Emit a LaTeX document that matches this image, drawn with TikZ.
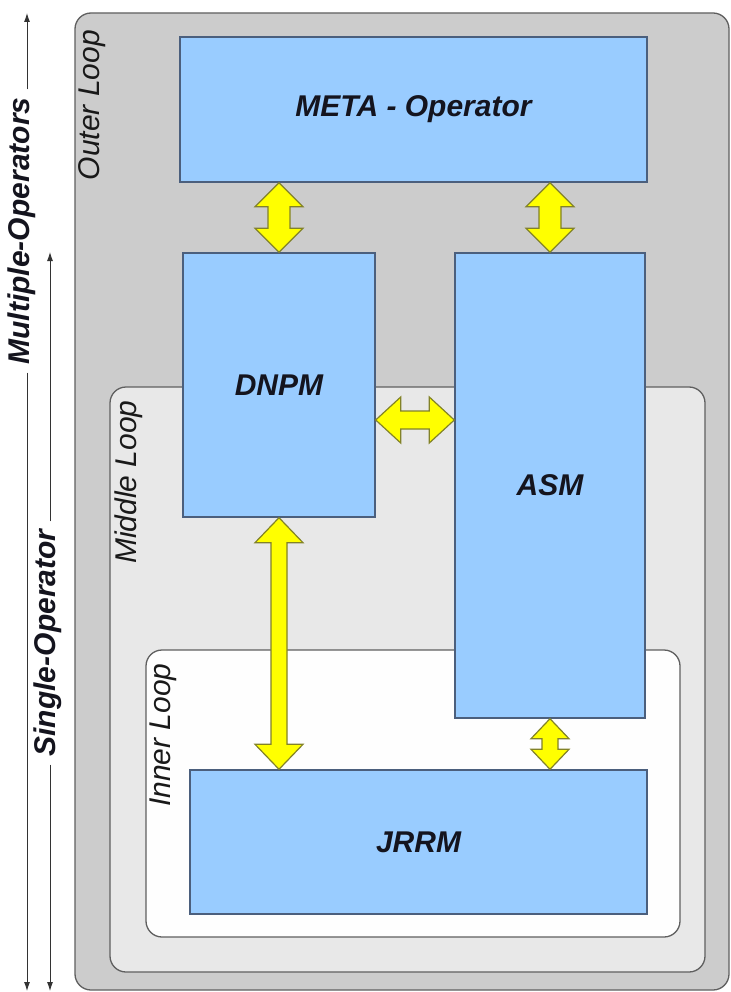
\documentclass[tikz,border=0pt]{standalone}
\usepackage{fontspec}
\setmainfont{Liberation Sans}
\usetikzlibrary{calc,arrows.meta}
\definecolor{outerfill}{RGB}{204,204,204}
\definecolor{middlefill}{RGB}{232,232,232}
\definecolor{innerfill}{RGB}{254,254,254}
\definecolor{loopline}{RGB}{95,95,95}
\definecolor{boxfill}{RGB}{153,204,255}
\definecolor{boxline}{RGB}{75,95,125}
\definecolor{arrowfill}{RGB}{255,255,0}
\definecolor{arrowline}{RGB}{130,130,40}
\definecolor{labeltext}{RGB}{20,20,30}
\newcommand{\vdarrow}[5]{%
  \draw[yarrow] let \p1=(#1), \p2=(#2) in
    (\x1,\y1) -- (\x1+#3pt,\y1-#5pt) -- (\x1+#4pt,\y1-#5pt) -- (\x1+#4pt,\y2+#5pt)
    -- (\x1+#3pt,\y2+#5pt) -- (\x1,\y2) -- (\x1-#3pt,\y2+#5pt) -- (\x1-#4pt,\y2+#5pt)
    -- (\x1-#4pt,\y1-#5pt) -- (\x1-#3pt,\y1-#5pt) -- cycle;}
\newcommand{\hdarrow}[5]{%
  \draw[yarrow] let \p1=(#1), \p2=(#2) in
    (\x1,\y1) -- (\x1+#5pt,\y1+#3pt) -- (\x1+#5pt,\y1+#4pt) -- (\x2-#5pt,\y1+#4pt)
    -- (\x2-#5pt,\y1+#3pt) -- (\x2,\y1) -- (\x2-#5pt,\y1-#3pt) -- (\x2-#5pt,\y1-#4pt)
    -- (\x1+#5pt,\y1-#4pt) -- (\x1+#5pt,\y1-#3pt) -- cycle;}
\begin{document}
\begin{tikzpicture}[x=1pt,y=-1pt,
  loopbox/.style={draw=loopline, line width=1.3pt, rounded corners=16pt},
  bluebox/.style={draw=boxline, line width=1.4pt, fill=boxfill, inner sep=0pt,
    font=\fontsize{30}{34}\selectfont\bfseries\itshape, text=labeltext},
  looplabel/.style={rotate=90, font=\fontsize{30}{34}\selectfont\itshape, text=black!90, inner sep=0pt},
  sidelabel/.style={rotate=90, font=\fontsize{30}{34}\selectfont\bfseries\itshape, text=labeltext, inner sep=8pt},
  sidearrow/.style={line width=0.9pt, draw=black!80, -{Latex[length=9pt,width=6pt]}},
  yarrow/.style={draw=arrowline, line width=1.2pt, fill=arrowfill, line join=miter}]
\useasboundingbox (0,0) rectangle (730,992);
\fill[white] (0,0) rectangle (730,992);

% loops
\draw[loopbox, fill=outerfill] (75,13) rectangle (729,990);
\draw[loopbox, fill=middlefill] (110,387) rectangle (705,972);
\draw[loopbox, fill=innerfill] (146,650) rectangle (680,937);

\node[looplabel] (outerlbl) at (92,105) {Outer Loop};
\node[looplabel] (middlelbl) at (129,482) {Middle Loop};
\node[looplabel] (innerlbl) at (163,735) {Inner Loop};

% boxes
\node[bluebox, minimum width=467pt, minimum height=145pt] (meta) at (413.5,109.5) {META - Operator};
\node[bluebox, minimum width=192pt, minimum height=264pt] (dnpm) at (279,385) {DNPM};
\node[bluebox, minimum width=190pt, minimum height=465pt] (asm) at (550,485.5) {ASM};
\node[bluebox, minimum width=457pt, minimum height=144pt] (jrrm) at (418.5,842) {JRRM};

% yellow double arrows
\vdarrow{dnpm.north |- meta.south}{dnpm.north}{24}{11}{24}
\vdarrow{asm.north |- meta.south}{asm.north}{24}{11}{24}
\hdarrow{dnpm.east |- 0,420}{asm.west |- 0,420}{23}{9}{25}
\vdarrow{dnpm.south}{dnpm.south |- jrrm.north}{24}{8}{25}
\vdarrow{asm.south}{asm.south |- jrrm.north}{19}{8}{20}

% side scales
\coordinate (mtop) at (27,13);
\coordinate (mbot) at (27,991);
\coordinate (stop) at (50,252);
\coordinate (sbot) at (50,991);
\node[sidelabel] (multi) at (22,231) {Multiple-Operators};
\node[sidelabel] (single) at (48,643) {Single-Operator};
\draw[sidearrow] (multi.east -| mtop) -- (mtop);
\draw[sidearrow] (multi.west -| mbot) -- (mbot);
\draw[sidearrow] (single.east -| stop) -- (stop);
\draw[sidearrow] (single.west -| sbot) -- (sbot);
\end{tikzpicture}
\end{document}
